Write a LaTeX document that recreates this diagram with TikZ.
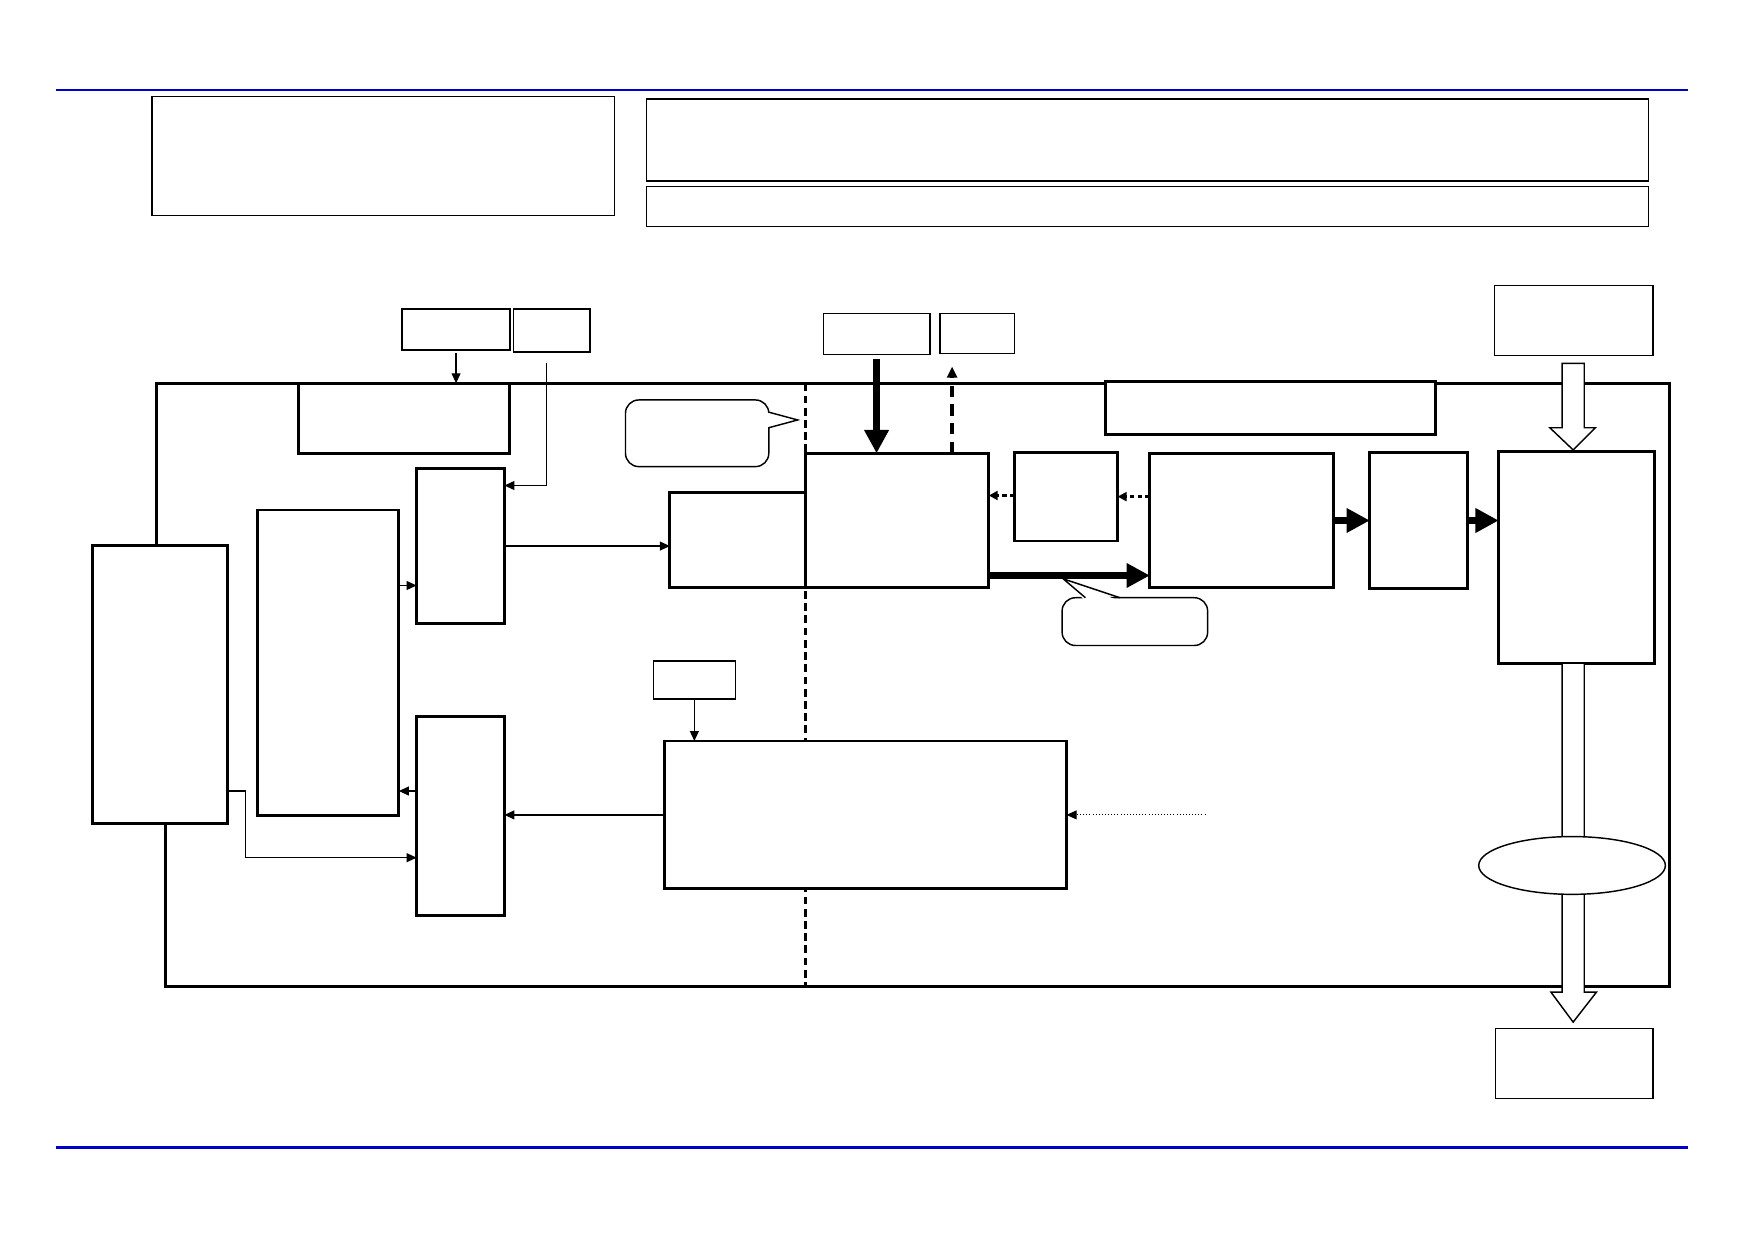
\documentclass[tikz,border=0pt]{standalone}
\usepackage{tikz}
\usetikzlibrary{arrows.meta,calc,shapes.geometric}

\definecolor{ruleblue}{RGB}{0,0,205}

\tikzset{
  thickbox/.style={draw, line width=2.6pt, fill=white, inner sep=0pt, outer sep=0pt},
  thinbox/.style={draw, line width=1.3pt, fill=white, inner sep=0pt, outer sep=0pt},
  arr/.style={line width=1.2pt, -{Triangle[length=9pt,width=8pt]}},
  heavyarr/.style={line width=6pt, -{Triangle[length=21pt,width=21pt]}},
  dasharr/.style={line width=2.2pt, dash pattern=on 4pt off 3pt, -{Triangle[length=8pt,width=8pt]}},
  updash/.style={line width=3pt, dash pattern=on 10pt off 7pt, -{Triangle[length=10pt,width=9pt]}},
  dotarr/.style={line width=0.8pt, dotted, -{Triangle[length=9pt,width=8pt]}},
  hollow/.style={draw, line width=1.3pt, fill=white, line join=miter},
  callout/.style={thinbox, rounded corners=12pt},
  pointer/.style={draw, line width=1.3pt}
}

\begin{document}
\begin{tikzpicture}[x=1pt, y=-1pt]
\newcommand{\placebox}[6]{%
  \pgfmathsetmacro\bw{#5-#3}%
  \pgfmathsetmacro\bh{#6-#4}%
  \node[#1, minimum width=\bw pt, minimum height=\bh pt] (#2)
    at ({(#3+#5)/2},{(#4+#6)/2}) {};}

\useasboundingbox (0,0) rectangle (1568,1109);

% page rules
\draw[ruleblue, line width=2.5pt] (50,81) -- (1519,81);
\draw[ruleblue, line width=2.5pt] (50,1033) -- (1519,1033);

% header boxes
\placebox{thinbox}{hdrl}{137}{87}{553}{194}
\placebox{thinbox}{hdrr}{582}{89}{1484}{163}
\placebox{thinbox}{hdrs}{582}{168}{1484}{204}

% outer frame and divider
\draw[line width=3pt] (141,491) -- (141,345) -- (1503,345) -- (1503,888)
  -- (149,888) -- (149,741);
\draw[line width=2pt, dash pattern=on 7pt off 4pt] (725,345) -- (725,888);

% inputs above the frame
\placebox{thinbox}{inA}{362}{278}{459}{315}
\placebox{thinbox}{inB}{462}{278}{531}{317}
\placebox{thinbox}{inC}{741}{282}{837}{319}
\placebox{thinbox}{inD}{846}{282}{913}{318}
\placebox{thinbox}{src}{1345}{257}{1488}{320}
\placebox{thinbox}{snk}{1346}{926}{1488}{989}
\placebox{thinbox}{tag}{588}{595}{662}{629}

% blocks inside the frame
\placebox{thickbox}{lft}{83}{491}{205}{741}
\placebox{thickbox}{stk}{232}{459}{359}{734}
\placebox{thickbox}{hangL}{269}{345}{459}{408}
\placebox{thickbox}{muxA}{375}{422}{454}{561}
\placebox{thickbox}{muxB}{375}{645}{454}{824}
\placebox{thickbox}{prep}{603}{443}{725}{529}
\placebox{thickbox}{core}{725}{408}{890}{529}
\placebox{thickbox}{buf}{913}{407}{1006}{487}
\placebox{thickbox}{hangR}{995}{343}{1292}{391}
\placebox{thickbox}{proc}{1035}{408}{1200}{529}
\placebox{thickbox}{stage}{1233}{407}{1321}{530}
\placebox{thickbox}{outb}{1349}{406}{1489}{597}
\placebox{thickbox}{ctrl}{598}{667}{960}{800}

% hollow flow arrows
\draw[hollow] (1406,327) -- (1426,327) -- (1426,385) -- (1436,385)
  -- (1416,405) -- (1395,385) -- (1406,385) -- cycle;
\draw[hollow] (1406,597) -- (1426,597) -- (1426,893) -- (1437,893)
  -- (1416,920) -- (1396,893) -- (1406,893) -- cycle;
\node[ellipse, draw, line width=1.3pt, fill=white, inner sep=0pt,
  minimum width=168pt, minimum height=52pt] (gate) at (1415,779) {};

% connectors
\coordinate (upend) at (857,330);
\coordinate (bend) at (221,712);
\coordinate (dotsrc) at (1085,733.5);

\draw[arr, shorten <=3pt] (inA.south) -- (inA.south |- hangL.north);
\draw[arr] ([xshift=-4.5pt]inB.south) ++(0,10) |- ($(muxA.north east)+(0,15)$);
\draw[arr] (stk.east |- {$(muxA.south west)+(0,-34)$}) -- ($(muxA.south west)+(0,-34)$);
\draw[arr] (muxA.east) -- (muxA.east -| prep.west);
\draw[heavyarr, shorten <=4pt] (inC.south) -- (inC.south |- core.north);
\draw[updash] (core.north -| upend) -- (upend);
\draw[dasharr] (buf.west |- {$(buf.west)+(0,-1)$}) -- (core.east |- {$(buf.west)+(0,-1)$});
\draw[dasharr] (proc.west |- buf.west) -- (buf.east);
\draw[heavyarr] ($(core.south east)+(0,-11)$) -- ($(proc.south west)+(0,-11)$);
\draw[heavyarr, line width=7pt] (proc.east) -- (stage.west);
\draw[heavyarr, line width=7pt] (stage.east) -- (stage.east -| outb.west);
\draw[arr] (tag.south) -- (tag.south |- ctrl.north);
\draw[arr] (ctrl.west) -- (ctrl.west -| muxB.east);
\draw[arr] ($(muxB.north west)+(0,67)$) -- (stk.east |- {$(muxB.north west)+(0,67)$});
\draw[arr] (lft.east |- bend) -- (bend) |- ($(muxB.south west)+(0,-52)$);
\draw[dotarr] (dotsrc) -- (ctrl.east);

% callouts
\placebox{callout}{noteA}{563}{360}{692}{420}
\fill[white] (689,371) -- (718,378) -- (689,385) -- cycle;
\draw[pointer] (noteA.east |- {(0,371)}) -- (718,378) -- (noteA.east |- {(0,385)});
\placebox{callout}{noteB}{956}{538}{1087}{581}
\fill[white] (977,541) -- (957,521) -- (1008,541) -- cycle;
\draw[pointer] (noteB.north -| {(977,0)}) -- (957,521) -- (noteB.north -| {(1008,0)});
\end{tikzpicture}
\end{document}
